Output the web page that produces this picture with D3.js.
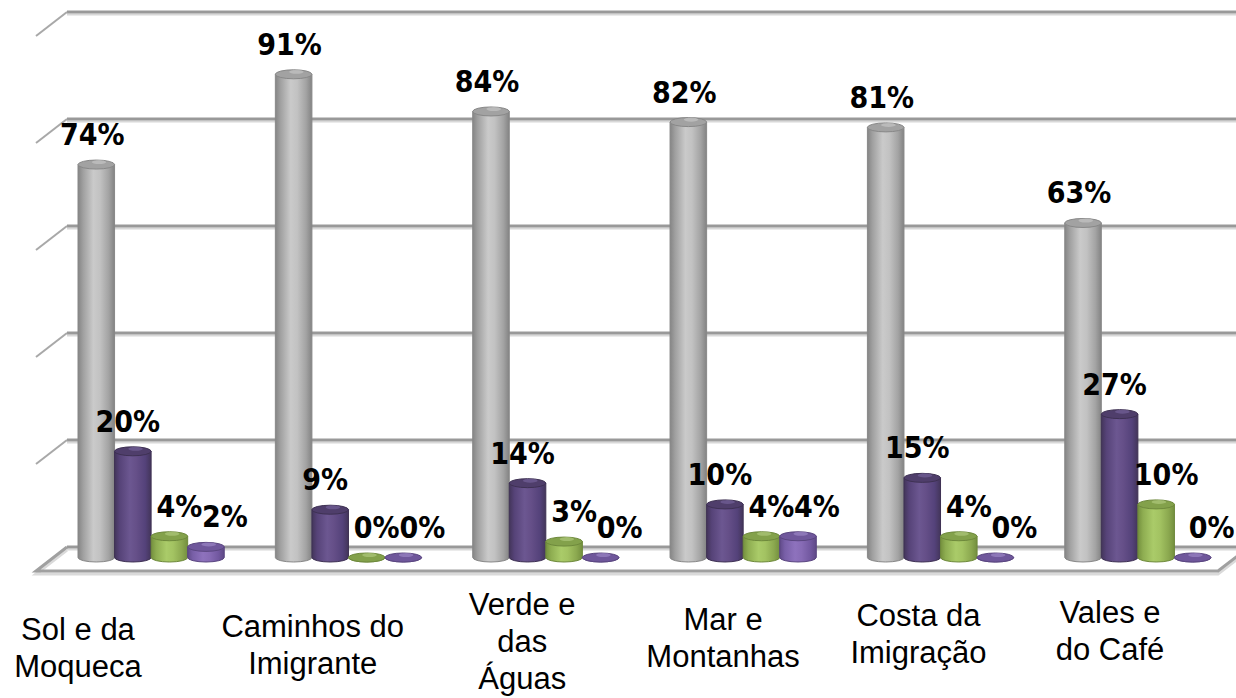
<!DOCTYPE html>
<html>
<head>
<meta charset="utf-8">
<script src="https://cdn.jsdelivr.net/npm/d3@7"></script>
<style>
  html, body { margin: 0; padding: 0; background: #ffffff; }
  svg { display: block; }
  .categories text { font-family: "Liberation Sans", Arial, Helvetica, sans-serif; font-size: 31px; }
  .values text { font-family: "DejaVu Sans Condensed", "DejaVu Sans", Verdana, sans-serif; font-stretch: condensed; font-weight: bold; font-size: 30px; }
</style>
</head>
<body>
<svg id="chart" width="1236" height="698"></svg>
<script>
// ---- data ----
const categories = [
  "Sol e da\nMoqueca",
  "Caminhos do\nImigrante",
  "Verde e\ndas\nÁguas",
  "Mar e\nMontanhas",
  "Costa da\nImigração",
  "Vales e\ndo Café"
];
const seriesKeys = ["s1", "s2", "s3", "s4"];
const s1 = [74, 91, 84, 82, 81, 63];
const s2 = [20, 9, 14, 10, 15, 27];
const s3 = [4, 0, 3, 4, 4, 10];
const s4 = [2, 0, 0, 4, 0, 0];
const gridTicks = [0, 20, 40, 60, 80, 100];

const seriesValues = { s1, s2, s3, s4 };

// ---- styles ----
const palette = {
  s1: { stops: ["#858585", "#a0a0a0", "#cacaca", "#c2c2c2", "#a3a3a3", "#838383"], top: "#a2a2a2", edge: "#888888", cap: "#c9c9c9" },
  s2: { stops: ["#43355a", "#564378", "#6c5791", "#654f88", "#54427a", "#43355a"], top: "#4f3e6b", edge: "#3e3153", cap: "#7a68a0" },
  s3: { stops: ["#74903e", "#8ead51", "#aacb69", "#a3c362", "#8ba84f", "#738f3e"], top: "#83a14b", edge: "#6e893c", cap: "#b5cf83" },
  s4: { stops: ["#604a88", "#785fa7", "#8e72bd", "#876bb5", "#7258a0", "#5f4986"], top: "#6f579b", edge: "#5a4680", cap: "#a28ccb" }
};
const gradOffsets = [0, 0.14, 0.42, 0.6, 0.84, 1];

// ---- layout ----
const wallLeft = 67, wallRight = 1249;   // back wall horizontal extent
const depthDx = -31, depthDy = 24;       // side/floor depth projection
const floorRightFront = 1218;

const svg = d3.select("#chart");
const defs = svg.append("defs");

// back wall scale (gridlines) and bar scale (bars stand in front of the wall)
const yWall = d3.scaleLinear().domain([0, 100]).range([547, 12]);
const yBar = d3.scaleLinear().domain([0, 100]).range([557.5, 26.5]);

const x0 = d3.scaleBand().domain(categories).range([78, 1211]).paddingInner(0.259).paddingOuter(0);
const x1 = d3.scaleBand().domain(seriesKeys).range([0, x0.bandwidth()]).padding(0);

// category labels sit along a slightly compressed, slightly tilted row
const labelX = d3.scalePow().exponent(0.92).domain([0, categories.length - 1]).range([78, 1110]);
const labelRowY = d3.scaleLinear().domain([0, categories.length - 1]).range([640, 623]);

// ---- gradients ----
seriesKeys.forEach(k => {
  const g = defs.append("linearGradient").attr("id", "grad-" + k)
    .attr("x1", "0%").attr("x2", "100%").attr("y1", "0%").attr("y2", "0%");
  palette[k].stops.forEach((c, i) => g.append("stop").attr("offset", gradOffsets[i]).attr("stop-color", c));
});

// ---- back wall gridlines and side-wall stubs ----
const grid = svg.append("g").attr("class", "grid");
gridTicks.forEach(t => {
  const y = yWall(t);
  grid.append("line").attr("x1", wallLeft).attr("x2", wallRight).attr("y1", y + 2.5).attr("y2", y + 2.5)
    .attr("stroke", "#d8d8d8").attr("stroke-width", 2);
  grid.append("line").attr("x1", wallLeft).attr("x2", wallRight).attr("y1", y).attr("y2", y)
    .attr("stroke", "#999999").attr("stroke-width", 3);
  if (t > 0) {
    grid.append("line").attr("x1", wallLeft).attr("y1", y).attr("x2", wallLeft + depthDx).attr("y2", y + depthDy)
      .attr("stroke", "#a8a8a8").attr("stroke-width", 2);
  }
});

// ---- floor outline ----
const floorBackY = yWall(0);
const floorFrontY = floorBackY + depthDy;
const floorPath = `M${wallLeft},${floorBackY} L${wallLeft + depthDx},${floorFrontY} L${floorRightFront},${floorFrontY} L${floorRightFront - depthDx},${floorFrontY - depthDy}`;
const floor = svg.append("g").attr("class", "floor");
floor.append("path").attr("d", floorPath)
  .attr("fill", "none").attr("stroke", "#dadada").attr("stroke-width", 3)
  .attr("transform", "translate(0,3)");
floor.append("path").attr("d", floorPath)
  .attr("fill", "none").attr("stroke", "#a0a0a0").attr("stroke-width", 3);

// ---- cylinders ----
const ry = 4.5;
const bars = svg.append("g").attr("class", "bars");
categories.forEach((cat, ci) => {
  seriesKeys.forEach(k => {
    const v = seriesValues[k][ci];
    const left = x0(cat) + x1(k);
    const w = x1.bandwidth();
    const rx = w / 2;
    const cx = left + rx;
    const yb = yBar(0);
    const yt = yBar(v);
    const p = palette[k];
    const g = bars.append("g");
    // body with rounded bottom
    g.append("path")
      .attr("d", `M${left},${yt} L${left},${yb} A${rx},${ry} 0 0 0 ${left + w},${yb} L${left + w},${yt} Z`)
      .attr("fill", `url(#grad-${k})`)
      .attr("stroke", p.edge).attr("stroke-width", 1);
    // top face
    g.append("ellipse")
      .attr("cx", cx).attr("cy", yt).attr("rx", rx).attr("ry", ry)
      .attr("fill", p.top).attr("stroke", p.edge).attr("stroke-width", 1);
    // soft highlight on the rim of the top face
    g.append("ellipse")
      .attr("cx", cx + rx * 0.15).attr("cy", yt - ry * 0.55).attr("rx", rx * 0.4).attr("ry", ry * 0.45)
      .attr("fill", p.cap).attr("opacity", 0.6);
  });
});

// ---- value labels ----
const labelShift = { s1: -4, s2: -5, s3: 10, s4: 19 };
const values = svg.append("g").attr("class", "values").attr("fill", "#000");
categories.forEach((cat, ci) => {
  seriesKeys.forEach(k => {
    const v = seriesValues[k][ci];
    const cx = x0(cat) + x1(k) + x1.bandwidth() / 2;
    values.append("text")
      .attr("x", cx + labelShift[k])
      .attr("y", yBar(v) - ry - 15)
      .attr("text-anchor", "middle")
      .text(v + "%");
  });
});

// ---- category labels ----
const lineH = 37;
const catG = svg.append("g").attr("class", "categories").attr("fill", "#000");
categories.forEach((cat, ci) => {
  const lines = cat.split("\n");
  const firstY = labelRowY(ci) - (lines.length - 2) * lineH / 2;
  const t = catG.append("text").attr("text-anchor", "middle");
  lines.forEach((ln, li) => {
    t.append("tspan").attr("x", labelX(ci)).attr("y", firstY + li * lineH).text(ln);
  });
});
</script>
</body>
</html>
